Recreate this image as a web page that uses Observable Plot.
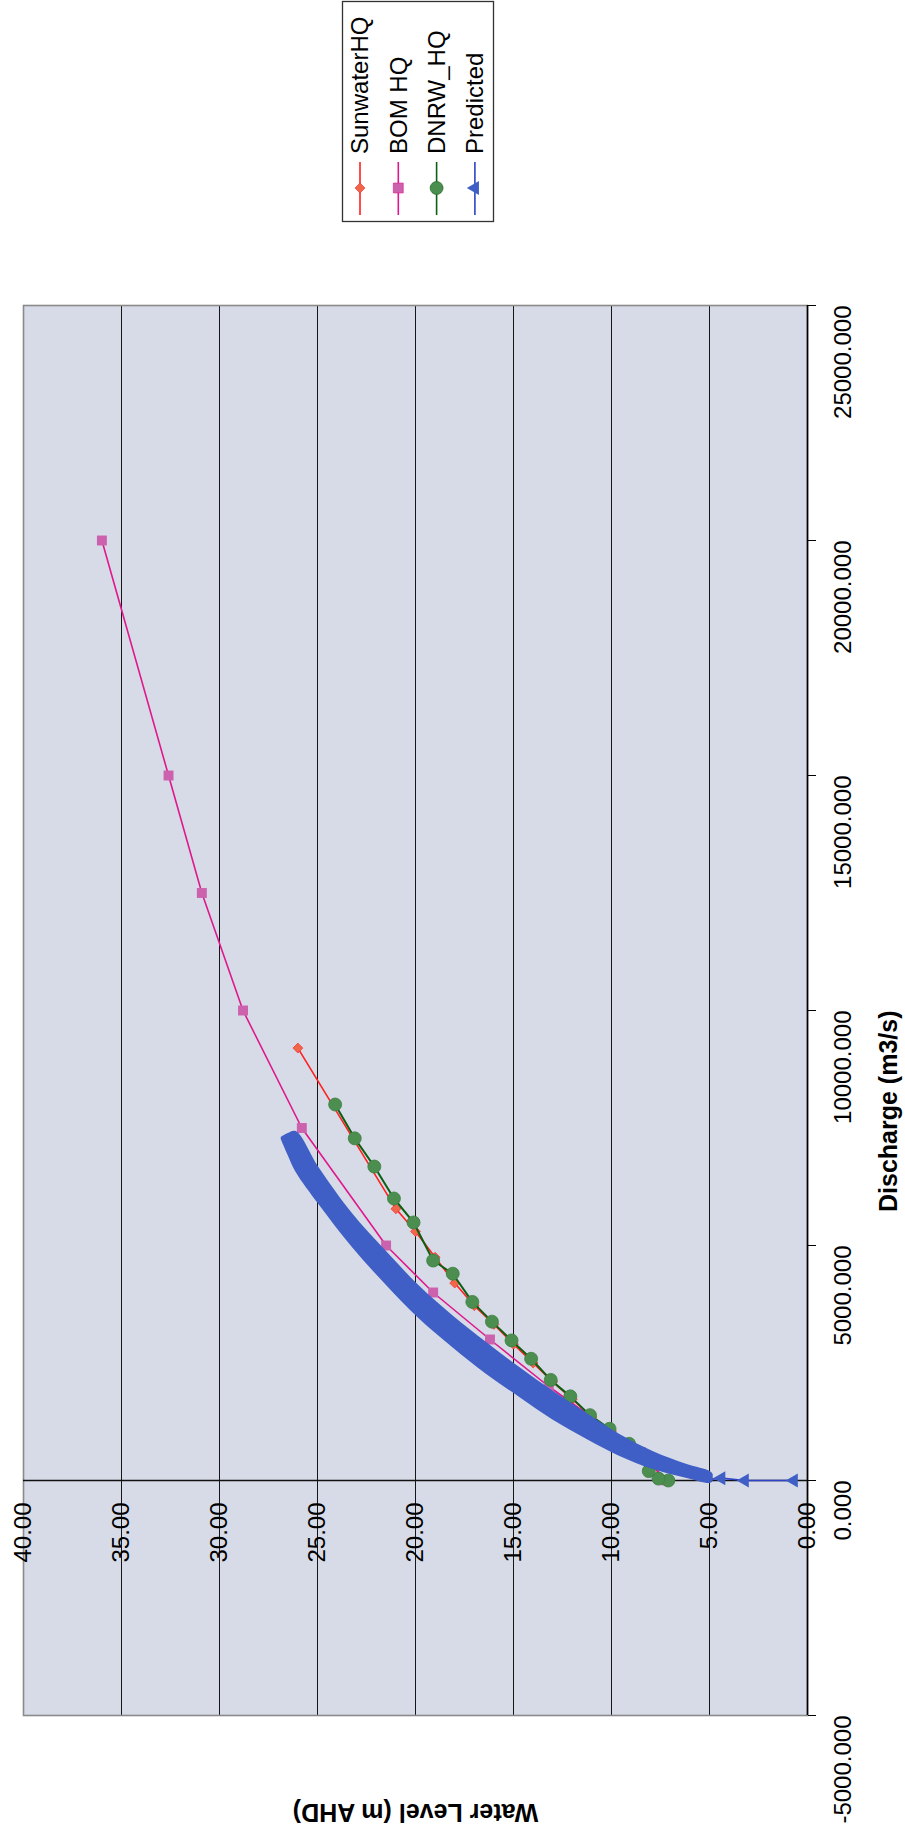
<!DOCTYPE html>
<html><head><meta charset="utf-8">
<script src="https://cdn.jsdelivr.net/npm/d3@7"></script>
<script src="https://cdn.jsdelivr.net/npm/@observablehq/plot@0.6"></script>
<style>
html,body{margin:0;padding:0;background:#fff;}
#legend,#chart{display:block;line-height:0;}
svg{display:block;}
</style></head><body>
<div id="legend"></div>
<div id="chart"></div>
<script>
// ---- series names / styles ----
const seriesNames = ["SunwaterHQ", "BOM HQ", "DNRW_HQ", "Predicted"];
const lineColors = ["#ff2020", "#e0188e", "#0b5e12", "#2f43c8"];
const markerFills = ["#f0664a", "#cc62ad", "#4b8e4f", "#3f5fc6"];
const markerSymbols = ["diamond2", "square", "circle", "triangle"];

// ---- axis ticks ----
const levelTicks = [40, 35, 30, 25, 20, 15, 10, 5, 0];               // Water Level (m AHD)
const dischargeTicks = [-5000, 0, 5000, 10000, 15000, 20000, 25000]; // Discharge (m3/s)

// ---- SunwaterHQ ----
const sunwaterLevel = [7.3, 8.0, 9.0, 10.0, 11.0, 12.0, 13.0, 14.0, 15.0, 16.0, 17.0, 18.0, 19.0, 20.0, 21.0, 26.0];
const sunwaterQ     = [0, 380, 720, 1050, 1350, 1730, 2100, 2500, 2900, 3320, 3720, 4200, 4750, 5300, 5780, 9200];

// ---- BOM HQ ----
const bomLevel = [7.2, 8.5, 13.2, 16.2, 19.1, 21.5, 25.8, 28.8, 30.9, 32.6, 36.0];
const bomQ     = [0, 600, 2000, 3000, 4000, 5000, 7500, 10000, 12500, 15000, 20000];

// ---- DNRW_HQ ----
const dnrwLevel = [7.1, 7.6, 8.1, 9.1, 10.1, 11.1, 12.1, 13.1, 14.1, 15.1, 16.1, 17.1, 18.1, 19.1, 20.1, 21.1, 22.1, 23.1, 24.1];
const dnrwQ     = [0, 40, 200, 780, 1100, 1390, 1790, 2140, 2590, 2980, 3380, 3800, 4400, 4680, 5490, 6000, 6680, 7280, 8000];

// ---- Predicted: dense cloud of points, read as a low / high discharge envelope per level ----
const predictedLevel = [4.81, 4.96, 6.14, 7.88, 9.57, 11.25, 12.99, 14.68, 16.37, 18.11, 19.80, 21.48, 23.22, 24.91, 26.09, 26.50, 26.85];
const predictedQLow  = [-21, -64, 43, 234, 511, 872, 1287, 1766, 2255, 2830, 3436, 4149, 4957, 5862, 6553, 6915, 7255];
const predictedQHigh = [128, 191, 340, 617, 979, 1426, 1904, 2404, 2936, 3511, 4138, 4872, 5681, 6649, 7426, 7383, 7298];
// Predicted isolated low points
const predictedTailLevel = [4.9, 4.4, 3.2, 0.7];
const predictedTailQ     = [30, 50, 0, 0];

// ---- tables ----
const sunwater = sunwaterLevel.map((level, i) => ({level, q: sunwaterQ[i]}));
const bom = bomLevel.map((level, i) => ({level, q: bomQ[i]}));
const dnrw = dnrwLevel.map((level, i) => ({level, q: dnrwQ[i]}));
const predictedBand = predictedLevel.map((level, i) => ({level, lo: predictedQLow[i], hi: predictedQHigh[i]}));
const predictedTail = predictedTailLevel.map((level, i) => ({level, q: predictedTailQ[i]}));

const FONT = "'Liberation Sans', Arial, Helvetica, sans-serif";
const PLOT_BG = "#d6dbe7";

// ---- legend (above the chart) ----
const legend = d3.create("svg").attr("width", 905).attr("height", 235)
  .style("font-family", FONT);
legend.append("rect").attr("x", 342.5).attr("y", 1.5).attr("width", 151).attr("height", 220)
  .attr("fill", "#fff").attr("stroke", "#333").attr("stroke-width", 1.3);
const symMap = {diamond2: d3.symbolDiamond2, square: d3.symbolSquare, circle: d3.symbolCircle, triangle: d3.symbolTriangle};
const symR = [4.5, 5.6, 6.5, 5.2];
seriesNames.forEach((name, i) => {
  const cx = 360 + i * 38.3;
  const g = legend.append("g");
  g.append("line").attr("x1", cx).attr("x2", cx).attr("y1", 162).attr("y2", 215)
    .attr("stroke", lineColors[i]).attr("stroke-width", 1.6);
  g.append("path").attr("d", d3.symbol(symMap[markerSymbols[i]], Math.PI * symR[i] * symR[i])())
    .attr("transform", `translate(${cx},188) rotate(${i === 3 ? -90 : 0})`)
    .attr("fill", markerFills[i]).attr("stroke", i === 3 ? "none" : lineColors[i]).attr("stroke-width", 0.6);
  g.append("text").attr("transform", `translate(${cx},154) rotate(-90)`)
    .attr("text-anchor", "start").attr("dy", "0.35em").attr("font-size", 24).attr("fill", "#000")
    .text(name);
});
document.getElementById("legend").appendChild(legend.node());

// ---- main chart ----
const chart = Plot.plot({
  width: 905,
  height: 1592,
  marginTop: 70,
  marginBottom: 112,
  marginLeft: 23,
  marginRight: 98,
  style: {background: "transparent", fontFamily: FONT, color: "#000"},
  x: {domain: [40, 0], axis: null},
  y: {domain: [-5000, 25000], axis: null},
  marks: [
    Plot.frame({fill: PLOT_BG, stroke: null}),
    Plot.ruleX(levelTicks.filter(d => d > 0 && d < 40), {stroke: "#161616", strokeWidth: 1}),
    Plot.frame({stroke: "#8a8a8a", strokeWidth: 1.6}),
    Plot.ruleX([0], {stroke: "#000", strokeWidth: 1.6}),
    Plot.axisY({anchor: "right", ticks: dischargeTicks, tickSize: 8, tickFormat: () => "", label: null, stroke: "#000"}),
    Plot.ruleY([0], {stroke: "#111", strokeWidth: 1.3}),
    // tick labels
    Plot.text(dischargeTicks, {y: d => d, text: d => d.toFixed(3), frameAnchor: "right", dx: 36,
      rotate: -90, fontSize: 24, fill: "#000"}),
    Plot.text(levelTicks, {x: d => d, y: () => 0, text: d => d.toFixed(2), rotate: -90,
      textAnchor: "end", dy: 22, fontSize: 24, fill: "#000"}),
    // axis titles
    Plot.text(["Discharge (m3/s)"], {frameAnchor: "right", dx: 81, rotate: -90, fontSize: 25, fontWeight: "bold", fill: "#000"}),
    Plot.text(["Water Level (m AHD)"], {frameAnchor: "bottom", dy: 88, rotate: 180, fontSize: 25, fontWeight: "bold", fill: "#000"}),
    // SunwaterHQ
    Plot.line(sunwater, {x: "level", y: "q", stroke: lineColors[0], strokeWidth: 1.6}),
    Plot.dot(sunwater, {x: "level", y: "q", symbol: markerSymbols[0], r: symR[0], fill: markerFills[0], stroke: lineColors[0], strokeWidth: 0.6}),
    // BOM HQ
    Plot.line(bom, {x: "level", y: "q", stroke: lineColors[1], strokeWidth: 1.6}),
    Plot.dot(bom, {x: "level", y: "q", symbol: markerSymbols[1], r: symR[1], fill: markerFills[1], stroke: "none"}),
    // DNRW_HQ
    Plot.line(dnrw, {x: "level", y: "q", stroke: lineColors[2], strokeWidth: 2}),
    Plot.dot(dnrw, {x: "level", y: "q", symbol: markerSymbols[2], r: symR[2], fill: markerFills[2], stroke: "#3d7f40", strokeWidth: 0.8}),
    // Predicted
    Plot.line(predictedTail, {x: "level", y: "q", stroke: lineColors[3], strokeWidth: 1.6}),
    Plot.areaY(predictedBand, {x: "level", y1: "lo", y2: "hi", fill: markerFills[3], curve: "catmull-rom"}),
    Plot.dot(predictedTail.slice(1), {x: "level", y: "q", symbol: markerSymbols[3], r: symR[3], rotate: -90, fill: markerFills[3], stroke: "none"})
  ]
});
document.getElementById("chart").appendChild(chart);
</script>
</body></html>
